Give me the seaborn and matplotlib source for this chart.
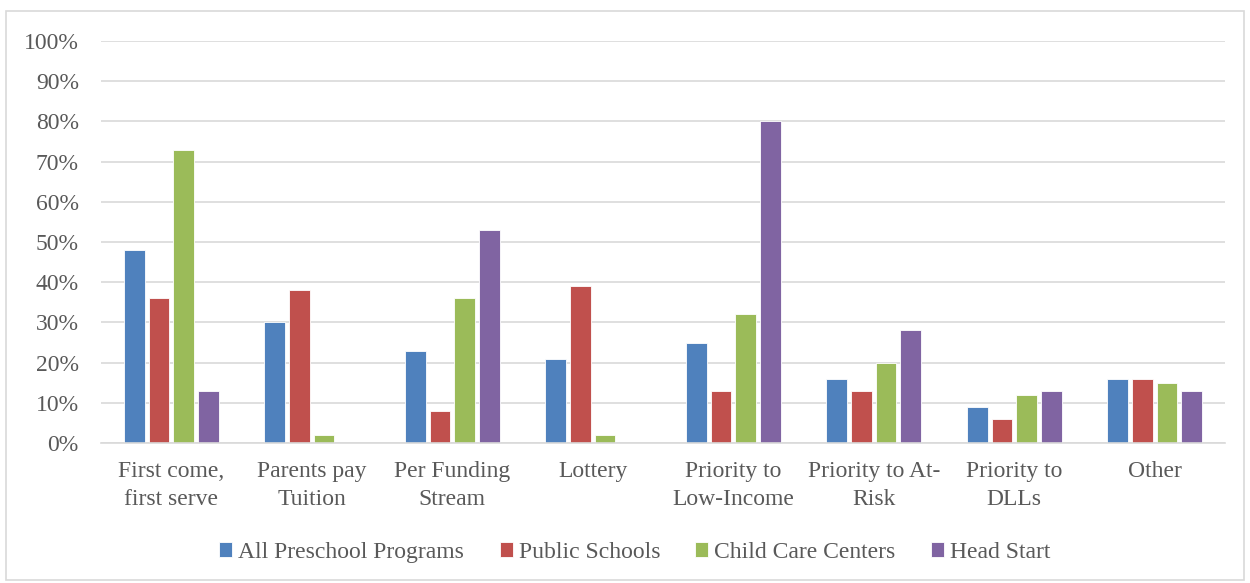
import numpy as np
import pandas as pd
import seaborn as sns
import matplotlib.pyplot as plt
from matplotlib.patches import Rectangle
from matplotlib.ticker import PercentFormatter

# data
categories = ['First come,\nfirst serve', 'Parents pay\nTuition', 'Per Funding\nStream', 'Lottery',
              'Priority to\nLow-Income', 'Priority to At-\nRisk', 'Priority to\nDLLs', 'Other']
series = ['All Preschool Programs', 'Public Schools', 'Child Care Centers', 'Head Start']
all_programs = [48, 30, 23, 21, 25, 16, 9, 16]
public_schools = [36, 38, 8, 39, 13, 13, 6, 16]
child_care = [73, 2, 36, 2, 32, 20, 12, 15]
head_start = [13, 0, 53, 0, 80, 28, 13, 13]
colors = ['#4F81BD', '#C0504D', '#9BBB59', '#8064A2']

df = pd.DataFrame({
    'category': categories * 4,
    'program': np.repeat(series, len(categories)),
    'value': all_programs + public_schools + child_care + head_start,
})

sns.set_style('white')
plt.rcParams['font.family'] = ['Liberation Serif', 'DejaVu Serif']
text_color = '#595959'
grid_color = '#D9D9D9'

fig = plt.figure(figsize=(12.5, 5.83), dpi=100)
ax = fig.add_axes([0.0808, 0.2401, 0.8992, 0.6896])

sns.barplot(data=df, x='category', y='value', hue='program', hue_order=series,
            palette=colors, width=0.7, gap=0.15, saturation=1, ax=ax,
            edgecolor='white', linewidth=0.6, legend=True, errorbar=None)

ax.set_ylim(0, 100)
ax.set_xlim(-0.5, len(categories) - 0.5)
ax.set_yticks(np.arange(0, 101, 10))
ax.yaxis.set_major_formatter(PercentFormatter(decimals=0))
ax.grid(axis='y', color=grid_color, linewidth=1.2)
ax.set_axisbelow(True)
for s in ['top', 'right', 'left']:
    ax.spines[s].set_visible(False)
ax.spines['bottom'].set_color(grid_color)
ax.spines['bottom'].set_linewidth(1.2)
ax.tick_params(axis='both', length=0, labelsize=17, colors=text_color)
ax.tick_params(axis='y', pad=16)
ax.tick_params(axis='x', pad=13)
for lbl in ax.get_xticklabels():
    lbl.set_linespacing(1.45)
ax.set_xlabel('')
ax.set_ylabel('')

ax.legend(loc='center', bbox_to_anchor=(0.475, -0.272), bbox_transform=ax.transAxes,
          ncol=4, frameon=False, fontsize=17, handlelength=0.55, handleheight=0.55,
          handletextpad=0.25, columnspacing=1.5, labelcolor=text_color)

fig.patches.append(Rectangle((6 / 1250, 3 / 583), 1238 / 1250, 569 / 583,
                             transform=fig.transFigure, fill=False,
                             edgecolor=grid_color, linewidth=1.2))

fig.savefig('out.png', dpi=100)
